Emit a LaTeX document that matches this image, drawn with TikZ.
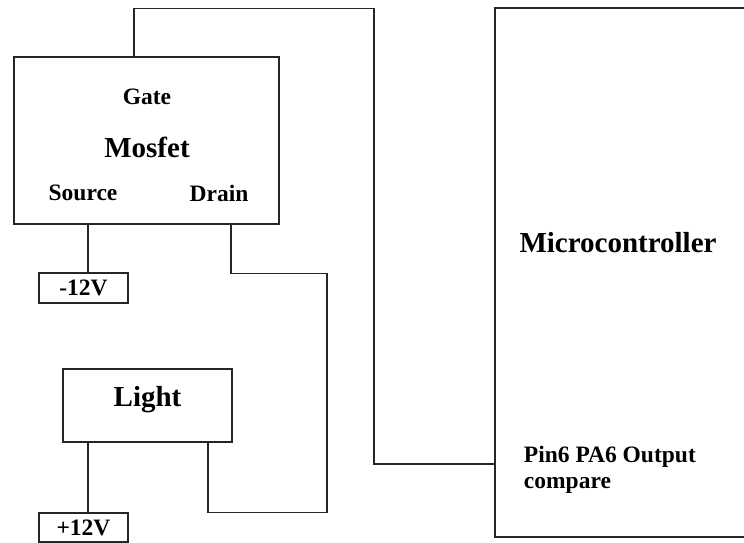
\documentclass[tikz,border=0pt]{standalone}
\usepackage{fontspec}
\setmainfont{Liberation Serif}
\usepackage{tikz}
\usetikzlibrary{positioning}

\begin{document}
\begin{tikzpicture}[
        x=1pt, y=-1pt,
        line width=1.2pt,
        every node/.style={font=\bfseries},
        box/.style={draw=black!85, line width=1.2pt, inner sep=0pt},
        volt/.style={box, minimum width=89pt, minimum height=30pt,
                     font=\fontsize{23.5}{26}\selectfont\bfseries},
        big/.style={font=\fontsize{29}{32}\selectfont\bfseries},
        small/.style={font=\fontsize{23.5}{26}\selectfont\bfseries},
        wire/.style={draw=black!85, line width=1.2pt},
    ]
        \useasboundingbox (0,0) rectangle (744,543);

        % Mosfet
        \node[box, minimum width=265pt, minimum height=167pt] (mosfet) at (146.5,140.5) {};
        \node[small] (gate)   at (147,97)  {Gate};
        \node[big]   (mname)  at (147,147) {Mosfet};
        \node[small] (source) at (83,193)  {Source};
        \node[small] (drain)  at (219,193) {Drain};

        \node[volt] (vneg) at (83.5,288) {-12V};

        % Light
        \node[box, big, minimum width=169pt, minimum height=73pt] (light) at (147.5,405.5) {};
        \node[big] (lname) at (147.5,400) {Light};

        \node[volt, minimum height=29pt] (vpos) at (83.5,527.5) {+12V};

        % Microcontroller
        \node[box, minimum width=255pt, minimum height=529pt] (micro) at (622.5,272.5) {};
        \node[big] (mcname) at (618,243) {Microcontroller};
        \node[small, align=left, anchor=west] (pin) at (520,470) {Pin6 PA6 Output\\compare};
        \coordinate (pa6) at (micro.west |- 0,464);

        % Leitungen
        \draw[wire] ([xshift=-12.5pt]mosfet.north) -- ++(0,-48) -- ++(240,0) |- (pa6);
        \draw[wire] ([xshift=4.5pt]vneg.north) -- ([xshift=4.5pt]vneg.north |- mosfet.south);
        \draw[wire] ([xshift=84.5pt]mosfet.south) -- ++(0,49) -- ++(96,0) -- ++(0,239)
                    -| ([xshift=60.5pt]light.south);
        \draw[wire] ([xshift=4.5pt]vpos.north) -- ([xshift=4.5pt]vpos.north |- light.south);
    \end{tikzpicture}
\end{document}
